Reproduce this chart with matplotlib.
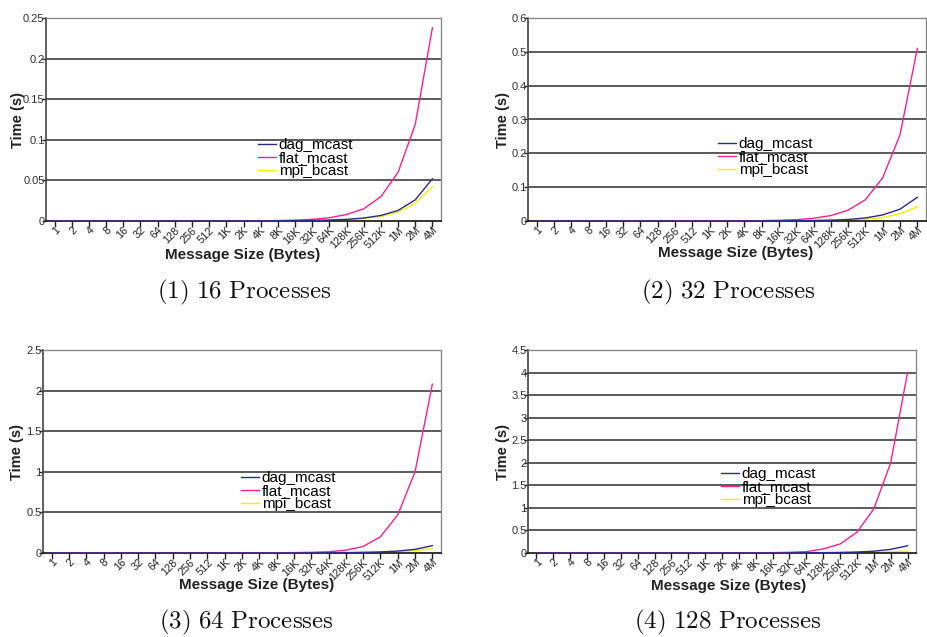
import matplotlib
matplotlib.use("Agg")
import matplotlib.pyplot as plt
import numpy as np

plt.rcParams['font.family'] = ['Liberation Sans', 'DejaVu Sans']
plt.rcParams['mathtext.fontset'] = 'cm'

sizes = ["1", "2", "4", "8", "16", "32", "64", "128", "256", "512",
         "1K", "2K", "4K", "8K", "16K", "32K", "64K", "128K", "256K", "512K",
         "1M", "2M", "4M"]

# 16 processes
dag_16 = [0.0001, 0.0001, 0.0001, 0.0001, 0.0001, 0.0001, 0.0001, 0.0001, 0.0001, 0.0001,
          0.0001, 0.0001, 0.0002, 0.0003, 0.0004, 0.0007, 0.0012, 0.002, 0.0037, 0.0068,
          0.013, 0.026, 0.052]
flat_16 = [0.0001, 0.0001, 0.0001, 0.0001, 0.0001, 0.0001, 0.0001, 0.0001, 0.0001, 0.0001,
           0.0002, 0.0002, 0.0003, 0.0005, 0.001, 0.002, 0.004, 0.008, 0.015, 0.03,
           0.06, 0.119, 0.238]
mpi_16 = [0.0001, 0.0001, 0.0001, 0.0001, 0.0001, 0.0001, 0.0001, 0.0001, 0.0001, 0.0001,
          0.0001, 0.0001, 0.0002, 0.0002, 0.0003, 0.0006, 0.001, 0.0017, 0.003, 0.0055,
          0.011, 0.022, 0.042]

# 32 processes
dag_32 = [0.0001, 0.0001, 0.0001, 0.0001, 0.0001, 0.0001, 0.0001, 0.0001, 0.0001, 0.0001,
          0.0001, 0.0002, 0.0002, 0.0003, 0.0006, 0.001, 0.0015, 0.0025, 0.0045, 0.009,
          0.018, 0.035, 0.07]
flat_32 = [0.0001, 0.0001, 0.0001, 0.0001, 0.0001, 0.0001, 0.0001, 0.0001, 0.0002, 0.0002,
           0.0003, 0.0004, 0.0006, 0.001, 0.002, 0.004, 0.008, 0.016, 0.032, 0.063,
           0.128, 0.255, 0.51]
mpi_32 = [0.0001, 0.0001, 0.0001, 0.0001, 0.0001, 0.0001, 0.0001, 0.0001, 0.0001, 0.0001,
          0.0001, 0.0001, 0.0002, 0.0003, 0.0005, 0.0008, 0.0012, 0.002, 0.003, 0.005,
          0.01, 0.022, 0.042]

# 64 processes
dag_64 = [0.0002, 0.0002, 0.0002, 0.0002, 0.0002, 0.0002, 0.0002, 0.0002, 0.0002, 0.0003,
          0.0003, 0.0004, 0.0005, 0.0008, 0.0012, 0.002, 0.003, 0.005, 0.008, 0.013,
          0.024, 0.045, 0.09]
flat_64 = [0.0002, 0.0002, 0.0002, 0.0002, 0.0002, 0.0002, 0.0003, 0.0003, 0.0004, 0.0006,
           0.0008, 0.0012, 0.002, 0.003, 0.005, 0.008, 0.015, 0.035, 0.08, 0.2,
           0.47, 1.0, 2.08]
mpi_64 = [0.0002, 0.0002, 0.0002, 0.0002, 0.0002, 0.0002, 0.0002, 0.0002, 0.0002, 0.0002,
          0.0003, 0.0003, 0.0004, 0.0006, 0.001, 0.0015, 0.0025, 0.004, 0.006, 0.01,
          0.016, 0.03, 0.055]

# 128 processes
dag_128 = [0.0003, 0.0003, 0.0003, 0.0003, 0.0003, 0.0003, 0.0003, 0.0003, 0.0004, 0.0005,
           0.0006, 0.0008, 0.001, 0.0015, 0.002, 0.003, 0.005, 0.008, 0.012, 0.022,
           0.04, 0.08, 0.16]
flat_128 = [0.0004, 0.0004, 0.0004, 0.0004, 0.0004, 0.0005, 0.0005, 0.0006, 0.0008, 0.001,
            0.0015, 0.002, 0.003, 0.005, 0.008, 0.015, 0.03, 0.09, 0.2, 0.46,
            0.98, 2.0, 4.0]
mpi_128 = [0.0003, 0.0003, 0.0003, 0.0003, 0.0003, 0.0003, 0.0003, 0.0003, 0.0003, 0.0004,
           0.0004, 0.0005, 0.0006, 0.0008, 0.001, 0.0015, 0.002, 0.003, 0.005, 0.008,
           0.015, 0.028, 0.04]

panels = [
    dict(dag=dag_16, flat=flat_16, mpi=mpi_16, ymax=0.25, ystep=0.05,
         yticklabels=["0", "0.05", "0.1", "0.15", "0.2", "0.25"],
         caption=r"$\mathrm{(1)\ 16\ Processes}$",
         rect=[46, 18, 441, 221], legend=(258, 138), ylab_x=18, xlab=(243, 255), cap=(244, 292)),
    dict(dag=dag_32, flat=flat_32, mpi=mpi_32, ymax=0.6, ystep=0.1,
         yticklabels=["0", "0.1", "0.2", "0.3", "0.4", "0.5", "0.6"],
         caption=r"$\mathrm{(2)\ 32\ Processes}$",
         rect=[528, 18, 926, 221], legend=(718, 137), ylab_x=503, xlab=(736, 253), cap=(728, 292)),
    dict(dag=dag_64, flat=flat_64, mpi=mpi_64, ymax=2.5, ystep=0.5,
         yticklabels=["0", "0.5", "1", "1.5", "2", "2.5"],
         caption=r"$\mathrm{(3)\ 64\ Processes}$",
         rect=[43, 350, 441, 553], legend=(241, 471), ylab_x=17, xlab=(257, 585), cap=(246, 622)),
    dict(dag=dag_128, flat=flat_128, mpi=mpi_128, ymax=4.5, ystep=0.5,
         yticklabels=["0", "0.5", "1", "1.5", "2", "2.5", "3", "3.5", "4", "4.5"],
         caption=r"$\mathrm{(4)\ 128\ Processes}$",
         rect=[528, 350, 916, 553], legend=(721, 467), ylab_x=503, xlab=(729, 586), cap=(728, 622)),
]

W, H = 927, 637
fig = plt.figure(figsize=(W / 100, H / 100), dpi=100)

n = len(sizes)
x = np.arange(n) + 0.5

for p in panels:
    l, t, r, b = p["rect"]
    ax = fig.add_axes([l / W, 1 - b / H, (r - l) / W, (b - t) / H])
    ax.plot(x, p["dag"], color="#2b2b8c", lw=1.0, label="dag_mcast", zorder=4)
    ax.plot(x, p["flat"], color="#ff1f8e", lw=1.0, label="flat_mcast", zorder=3)
    ax.plot(x, p["mpi"], color="#f2f200", lw=1.0, label="mpi_bcast", zorder=2)
    ax.set_xlim(0, n)
    ax.set_ylim(0, p["ymax"])
    yt = np.arange(len(p["yticklabels"])) * p["ystep"]
    ax.set_yticks(yt)
    ax.set_yticklabels(p["yticklabels"], fontsize=8, color="#333333")
    for yv in yt[1:]:
        ax.axhline(yv, color="#4d4d4d", lw=1.3, zorder=1)
    ax.set_xticks(x)
    ax.set_xticklabels(sizes, rotation=45, ha="right", va="top",
                       rotation_mode="anchor", fontsize=7.8, color="#222222")
    ax.tick_params(axis="x", length=4, width=1, color="#222222", direction="out", pad=-1)
    ax.tick_params(axis="y", length=3, width=1, color="#222222", direction="out", pad=-2)
    for s in ["top", "right"]:
        ax.spines[s].set_color("#8a8a8a")
        ax.spines[s].set_linewidth(1.0)
    ax.spines["left"].set_color("#444444")
    ax.spines["left"].set_linewidth(1.2)
    ax.spines["bottom"].set_color("#111111")
    ax.spines["bottom"].set_linewidth(1.2)

    lx, ly = p["legend"]
    ax.legend(loc="upper left", bbox_to_anchor=(lx / W, 1 - ly / H),
              bbox_transform=fig.transFigure, frameon=False, fontsize=11,
              handlelength=1.2, handletextpad=0.15, labelspacing=-0.05,
              borderpad=0, borderaxespad=0)

    fig.text(p["ylab_x"] / W, 1 - ((t + b) / 2) / H, "Time (s)", rotation=90,
             ha="center", va="center", fontsize=10.5, fontweight="bold", color="#222222")
    fig.text(p["xlab"][0] / W, 1 - p["xlab"][1] / H, "Message Size (Bytes)",
             ha="center", va="center", fontsize=11, fontweight="bold", color="#222222")
    fig.text(p["cap"][0] / W, 1 - p["cap"][1] / H, p["caption"],
             ha="center", va="center", fontsize=18, color="#111111")

fig.savefig("out.png", dpi=100)
